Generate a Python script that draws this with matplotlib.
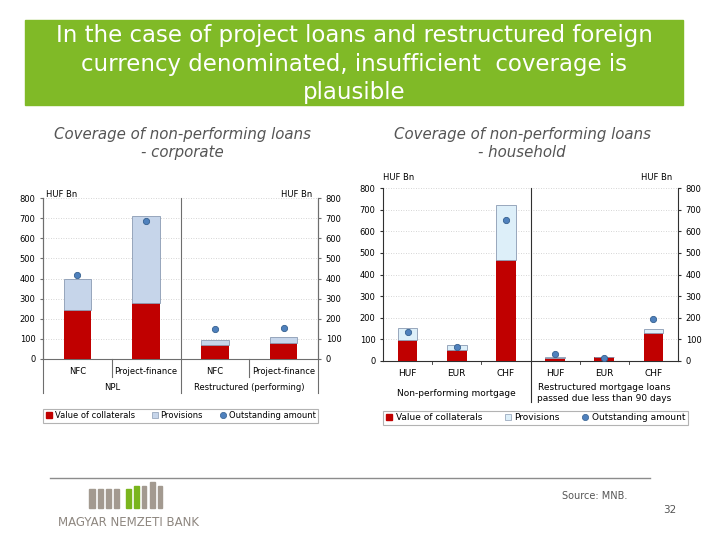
import numpy as np
import matplotlib.pyplot as plt
from matplotlib.patches import Rectangle
from matplotlib.lines import Line2D
import matplotlib.transforms as mtransforms

# corporate chart (HUF Bn)
corp_cats = ['NFC', 'Project-finance', 'NFC', 'Project-finance']
corp_groups = ['NPL', 'Restructured (performing)']
corp_collateral = [242, 278, 71, 79]
corp_provisions = [155, 434, 25, 29]
corp_outstanding = [419, 685, 149, 154]

# household chart (HUF Bn)
hh_cats = ['HUF', 'EUR', 'CHF', 'HUF', 'EUR', 'CHF']
hh_groups = ['Non-performing mortgage',
             'Restructured mortgage loans\npassed due less than 90 days']
hh_collateral = [95, 52, 465, 14, 17, 130]
hh_provisions = [56, 20, 255, 3, 3, 18]
hh_outstanding = [134, 63, 653, 32, 15, 192]

yticks = [0, 100, 200, 300, 400, 500, 600, 700, 800]
legend_labels = ['Value of collaterals', 'Provisions', 'Outstanding amount']

RED = '#c00000'
DOT = '#4f81bd'
DOT_EDGE = '#35608f'
W, H = 720, 540


def rect(x0, y0, x1, y1):
    # pixel box (top-left origin) -> figure fraction
    return [x0 / W, 1 - y1 / H, (x1 - x0) / W, (y1 - y0) / H]


def draw(ax, cats, coll, prov, outst, prov_color, spine_color):
    x = np.arange(len(cats))
    ax.bar(x, coll, 0.4, color=RED, zorder=3)
    ax.bar(x, prov, 0.4, bottom=coll, color=prov_color, edgecolor='#8a9bb3',
           linewidth=0.6, zorder=3)
    ax.plot(x, outst, 'o', ms=4.5, mfc=DOT, mec=DOT_EDGE, mew=0.6, zorder=4)
    ax.set_xlim(-0.5, len(cats) - 0.5)
    ax.set_ylim(0, 800)
    ax.set_yticks(yticks)
    ax.grid(axis='y', linestyle=(0, (1, 2)), color='#c8c8c8', linewidth=0.6, zorder=0)
    ax.tick_params(axis='y', left=True, right=True, labelleft=True, labelright=True,
                   labelsize=6, length=2.5, pad=3, color=spine_color)
    ax.set_xticks(x, cats)
    ax.tick_params(axis='x', length=0, labelsize=6, pad=6)
    ax.spines['top'].set_visible(False)
    for s in ['left', 'right', 'bottom']:
        ax.spines[s].set_color(spine_color)
        ax.spines[s].set_linewidth(0.8)
    ax.set_facecolor('white')


fig = plt.figure(figsize=(7.2, 5.4), dpi=100)

# title banner
fig.patches.append(Rectangle((25 / W, 1 - 105 / H), 658 / W, 85 / H,
                             transform=fig.transFigure, color='#80ba27'))
fig.text(354 / W, 1 - 64 / H,
         'In the case of project loans and restructured foreign\n'
         'currency denominated, insufficient  coverage is\nplausible',
         ha='center', va='center', color='white', fontsize=16.5, linespacing=1.3)

fig.text(182 / W, 1 - 144 / H, 'Coverage of non-performing loans\n- corporate',
         ha='center', va='center', style='italic', color='#555555', fontsize=10.8,
         linespacing=1.25)
fig.text(522 / W, 1 - 144 / H, 'Coverage of non-performing loans\n- household',
         ha='center', va='center', style='italic', color='#555555', fontsize=10.8,
         linespacing=1.25)

# ---- corporate chart
ax1 = fig.add_axes(rect(43, 198, 318, 359))
draw(ax1, corp_cats, corp_collateral, corp_provisions, corp_outstanding,
     '#c6d5ea', '#6e6e6e')
for xv in [-0.5, 1.5, 3.5]:
    ax1.axvline(xv, ymin=-0.211, ymax=1, color='#6e6e6e', lw=0.8, clip_on=False, zorder=5)
for xv in [0.5, 2.5]:
    ax1.axvline(xv, ymin=-0.112, ymax=0, color='#6e6e6e', lw=0.8, clip_on=False)
tr1 = mtransforms.blended_transform_factory(ax1.transData, ax1.transAxes)
ax1.text(0.5, -0.174, corp_groups[0], transform=tr1, ha='center', va='center', fontsize=6)
ax1.text(2.5, -0.174, corp_groups[1], transform=tr1, ha='center', va='center', fontsize=6)
ax1.text(0.01, 1.02, 'HUF Bn', transform=ax1.transAxes, ha='left', va='center', fontsize=6)
ax1.text(0.98, 1.02, 'HUF Bn', transform=ax1.transAxes, ha='right', va='center', fontsize=6)

# ---- household chart
ax2 = fig.add_axes(rect(383, 188, 678, 361))
draw(ax2, hh_cats, hh_collateral, hh_provisions, hh_outstanding,
     '#ddeff9', '#303030')
ax2.axvline(2.5, ymin=-0.237, ymax=1, color='#303030', lw=0.8, clip_on=False, zorder=5)
for xv in [0.5, 1.5, 3.5, 4.5]:
    ax2.axvline(xv, ymin=-0.02, ymax=0, color='#303030', lw=0.6, clip_on=False)
tr2 = mtransforms.blended_transform_factory(ax2.transData, ax2.transAxes)
ax2.text(1.0, -0.185, hh_groups[0], transform=tr2, ha='center', va='center', fontsize=6.5)
ax2.text(4.0, -0.185, hh_groups[1], transform=tr2, ha='center', va='center', fontsize=6.5,
         linespacing=1.2)
ax2.tick_params(axis='x', labelsize=6.5)
ax2.text(0.0, 1.06, 'HUF Bn', transform=ax2.transAxes, ha='left', va='center', fontsize=6)
ax2.text(0.98, 1.06, 'HUF Bn', transform=ax2.transAxes, ha='right', va='center', fontsize=6)


def handles(prov_color):
    return [Line2D([], [], ls='', marker='s', ms=4.5, mfc=RED, mec=RED),
            Line2D([], [], ls='', marker='s', ms=4.5, mfc=prov_color, mec='#8a9bb3', mew=0.5),
            Line2D([], [], ls='', marker='o', ms=4.5, mfc=DOT, mec=DOT_EDGE, mew=0.5)]


for hnd, box, fs in [(handles('#c6d5ea'), rect(43, 407, 318, 424), 6),
                     (handles('#ddeff9'), rect(383, 407, 688, 429), 6.5)]:
    leg = fig.legend(hnd, legend_labels, loc='center', bbox_to_anchor=box, mode='expand',
                     ncol=3, fontsize=fs, frameon=True, fancybox=False, handlelength=0.8,
                     handletextpad=0.3, borderaxespad=0, borderpad=0.3, columnspacing=0.5)
    leg.get_frame().set_edgecolor('#a0a0a0')
    leg.get_frame().set_linewidth(0.8)

# ---- footer
fig.add_artist(Line2D([50 / W, 650 / W], [1 - 478 / H, 1 - 478 / H],
                      color='#8c8c8c', lw=1, transform=fig.transFigure))
logo = [(89, 95, 489, '#a39a90'), (98, 103, 489, '#a39a90'), (106, 111, 489, '#a39a90'),
        (114, 119, 489, '#a39a90'), (126, 131, 489, '#7ab51d'), (134, 139, 486, '#7ab51d'),
        (142, 146, 486, '#a39a90'), (150, 155, 482, '#a39a90'), (158, 162, 486, '#a39a90')]
for x0, x1, top, c in logo:
    fig.patches.append(Rectangle((x0 / W, 1 - 508 / H), (x1 - x0) / W, (508 - top) / H,
                                 transform=fig.transFigure, color=c))
fig.text(129 / W, 1 - 522 / H, 'MAGYAR NEMZETI BANK', ha='center', va='center',
         color='#8e8780', fontsize=8.5)
fig.text(562 / W, 1 - 496 / H, 'Source: MNB.', ha='left', va='center',
         color='#555555', fontsize=7)
fig.text(670 / W, 1 - 510 / H, '32', ha='center', va='center', color='#555555', fontsize=7.5)

fig.savefig('out.png', dpi=100)
